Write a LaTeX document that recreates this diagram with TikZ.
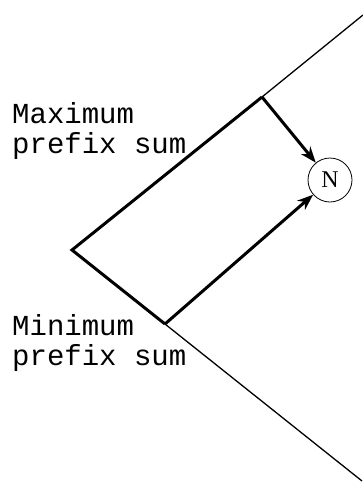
\documentclass[tikz,border=0pt]{standalone}
\usepackage{fontspec}
\setmainfont{Liberation Serif}
\setmonofont{Liberation Mono}
\usetikzlibrary{arrows.meta}
\begin{document}
\begin{tikzpicture}[x=1pt,y=-1pt,
  sumtext/.style={font=\ttfamily\fontsize{29}{30}\selectfont,align=left,anchor=base west,inner sep=0pt},
  thinline/.style={line width=1.3pt},
  sumline/.style={line width=3pt,line join=miter},
  arr/.style={line width=3pt,-{Stealth[length=16pt,width=12pt]}}]
\useasboundingbox (0,0) rectangle (363,482);
% corner points of the two prefix sums
\coordinate (apex) at (72,250);
\coordinate (maxp) at (262,97);
\coordinate (minp) at (165,324);
\coordinate (topend) at (363,15);
\coordinate (botend) at (362,481);
\node[draw,circle,line width=0.8pt,minimum size=44pt,inner sep=0pt,font=\fontsize{24}{24}\selectfont] (N) at (330,180) {N};
\draw[thinline] (maxp)--(topend);
\draw[thinline] (minp)--(botend);
\draw[sumline] (maxp)--(apex)--(minp);
\draw[arr] (maxp)--(N);
\draw[arr] (minp)--(N);
\node[sumtext] (maxlbl) at (12,153) {Maximum\\prefix sum};
\node[sumtext] (minlbl) at (12,365) {Minimum\\prefix sum};
\end{tikzpicture}
\end{document}
